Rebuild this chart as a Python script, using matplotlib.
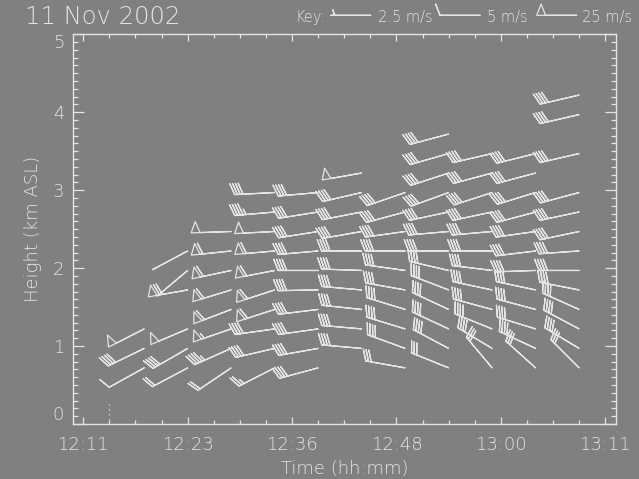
import numpy as np
import matplotlib
matplotlib.use('Agg')
import matplotlib.pyplot as plt

BG = '#808080'
FG = '#e4e4e4'

# ---- data ----
# observation times, minutes after 12:11
times = [7, 12, 17, 22, 27, 32, 37, 42, 47, 52, 57]
# gate heights (km ASL)
heights = [0.72, 0.97, 1.22, 1.47, 1.72, 1.97, 2.22, 2.47, 2.72, 2.97,
           3.22, 3.47, 3.72, 3.97, 4.22]
N = None
# wind speed (m/s), rows = gates, cols = times  (speed 1 = staff only)
speed = [
    [5, 10, 10, 12.5, 20, N, 15, 15, 15, 15, 15],
    [20, 20, 22.5, 20, 20, 20, 20, 20, 20, 20, 20],
    [25, 25, 27.5, 20, 20, 20, 20, 20, 20, 20, 20],
    [N, N, 30, 30, 20, 20, 20, 20, 20, 20, 20],
    [N, 35, 30, 30, 20, 20, 20, 20, 20, 20, 20],
    [N, 1, 30, 30, 20, 20, 20, 20, 20, 20, 20],
    [N, 1, 30, 30, 20, 20, 20, 20, 20, 20, 20],
    [N, N, 25, 25, 20, 20, 20, 20, 20, 20, 20],
    [N, N, N, 22.5, 20, 20, 20, 20, 20, 20, 20],
    [N, N, N, 20, 20, 20, 20, 20, 20, 20, 20],
    [N, N, N, N, N, 25, N, 20, 20, 20, N],
    [N, N, N, N, N, N, N, 20, 20, 20, 20],
    [N, N, N, N, N, N, N, 20, N, N, N],
    [N, N, N, N, N, N, N, N, N, N, 20],
    [N, N, N, N, N, N, N, N, N, N, 20],
]
# wind direction (deg, from)
direction = [
    [241, 242, 236, 243, 255, N, 280, 292, 320, 312, 315],
    [244, 240, 246, 257, 260, 275, 290, 298, 301, 295, 301],
    [243, 247, 251, 262, 262, 275, 287, 295, 292, 287, 298],
    [N, N, 249, 252, 263, 276, 287, 295, 285, 285, 294],
    [N, 260, 253, 252, 269, 275, 280, 291, 282, 282, 281],
    [N, 230, 258, 259, 270, 272, 278, 283, 277, 268, 270],
    [N, 242, 264, 265, 265, 270, 270, 270, 270, 263, 266],
    [N, N, 268, 267, 261, 260, 262, 265, 265, 262, 258],
    [N, N, N, 265, 261, 259, 255, 258, 258, 255, 258],
    [N, N, N, 267, 265, 257, 251, 250, 252, 253, 255],
    [N, N, N, N, N, 260, N, 252, 255, 255, N],
    [N, N, N, N, N, N, N, 254, 257, 256, 257],
    [N, N, N, N, N, N, N, 255, N, N, N],
    [N, N, N, N, N, N, N, N, N, N, 257],
    [N, N, N, N, N, N, N, N, N, N, 257],
]

xtick_pos = [0, 12, 24, 36, 48, 60]
xtick_labels = ['12:11', '12:23', '12:36', '12:48', '13:00', '13:11']
key_speeds = [2.5, 5, 25]
key_labels = ['2.5 m/s', '5 m/s', '25 m/s']
marker_time = 3

# ---- build vectors ----
pts = {'normal': ([], [], [], []), 'staff': ([], [], [], [])}
for r, h in enumerate(heights):
    for c, t in enumerate(times):
        s = speed[r][c]
        d = direction[r][c]
        if s is None or d is None:
            continue
        rad = np.deg2rad(d)
        grp = pts['staff'] if s < 1.25 else pts['normal']
        grp[0].append(t); grp[1].append(h)
        grp[2].append(-s * np.sin(rad)); grp[3].append(-s * np.cos(rad))

plt.rcParams['font.family'] = ['DejaVu Sans']
fig = plt.figure(figsize=(6.39, 4.79), dpi=100, facecolor=BG)
ax = fig.add_axes([72.5/639, 1-424/479, (616-72.5)/639, (424-34.3)/479])
ax.set_facecolor(BG)

LW = 0.9
# matplotlib staff length in px = length**2/2 * dpi/72 -> 40 px
L = np.sqrt(40 * 2 * 72 / 100)
bsizes = dict(spacing=0.07, height=0.28, width=0.22, emptybarb=0.05)
binc = dict(half=2.5, full=5, flag=25)
X, Y, U, V = pts['normal']
ax.barbs(X, Y, U, V, length=L, sizes=bsizes, barb_increments=binc,
         barbcolor=FG, flagcolor='none', linewidth=LW, pivot='tip')
X, Y, U, V = pts['staff']
if X:
    ax.barbs(X, Y, U, V, length=L, sizes=dict(height=0.0, spacing=0.07, width=0.22),
             barb_increments=dict(half=0.5, full=100, flag=500),
             barbcolor=FG, flagcolor='none', linewidth=LW, pivot='tip')

ax.plot([marker_time, marker_time], [0.05, 0.29], color=FG, lw=LW,
        linestyle=(0, (1, 3)))

ax.set_xlim(-1.24, 61.24)
ax.set_ylim(0, 5)
ax.set_xticks(xtick_pos)
ax.set_xticklabels(xtick_labels)
ax.set_xticks(np.arange(0, 61, 3), minor=True)
ax.set_yticks(range(6))
ax.set_yticks(np.arange(0, 5.01, 0.1), minor=True)

for sp in ax.spines.values():
    sp.set_color(FG)
    sp.set_linewidth(1.0)

ax.tick_params(axis='x', which='major', direction='in', length=5.3, width=LW,
               colors=FG, top=True, labelsize=13, pad=9)
ax.tick_params(axis='x', which='minor', direction='in', length=2.9, width=LW,
               colors=FG, top=True)
ax.tick_params(axis='y', which='major', direction='in', length=7.7, width=LW,
               colors=FG, right=True, labelsize=13, pad=6)
ax.tick_params(axis='y', which='minor', direction='in', length=3.6, width=LW,
               colors=FG, right=True)
for lab in ax.get_xticklabels() + ax.get_yticklabels():
    lab.set_fontweight('light')
ylabs = ax.get_yticklabels()
ylabs[0].set_va('bottom')
ylabs[-1].set_va('top')

ax.set_xlabel('Time (hh:mm)', color=FG, fontsize=13, fontweight='light', labelpad=4)
ax.set_ylabel('Height (km ASL)', color=FG, fontsize=13, fontweight='light', labelpad=8)

fig.text(25/639, 1-24/479, '11 Nov 2002', color=FG, fontsize=17.5,
         fontweight='light', ha='left', va='baseline')

# key
kax = fig.add_axes([0, 0, 1, 1], facecolor='none')
kax.set_xlim(0, 639); kax.set_ylim(479, 0)
kax.axis('off')
kax.text(295, 21.7, 'Key:', color=FG, fontsize=10.5, fontweight='light',
         va='baseline', ha='left')
key_x = [370.7, 480, 576.7]
key_tx = [378, 487, 582]
for sx, tx, ks, kl in zip(key_x, key_tx, key_speeds, key_labels):
    kax.barbs([sx], [15.3], [ks], [0], length=L, sizes=bsizes,
              barb_increments=binc, barbcolor=FG, flagcolor='none',
              linewidth=LW, pivot='tip')
    kax.text(tx, 21.7, kl, color=FG, fontsize=10.5, fontweight='light',
             va='baseline', ha='left')

fig.savefig('out.png', dpi=100, facecolor=BG)
